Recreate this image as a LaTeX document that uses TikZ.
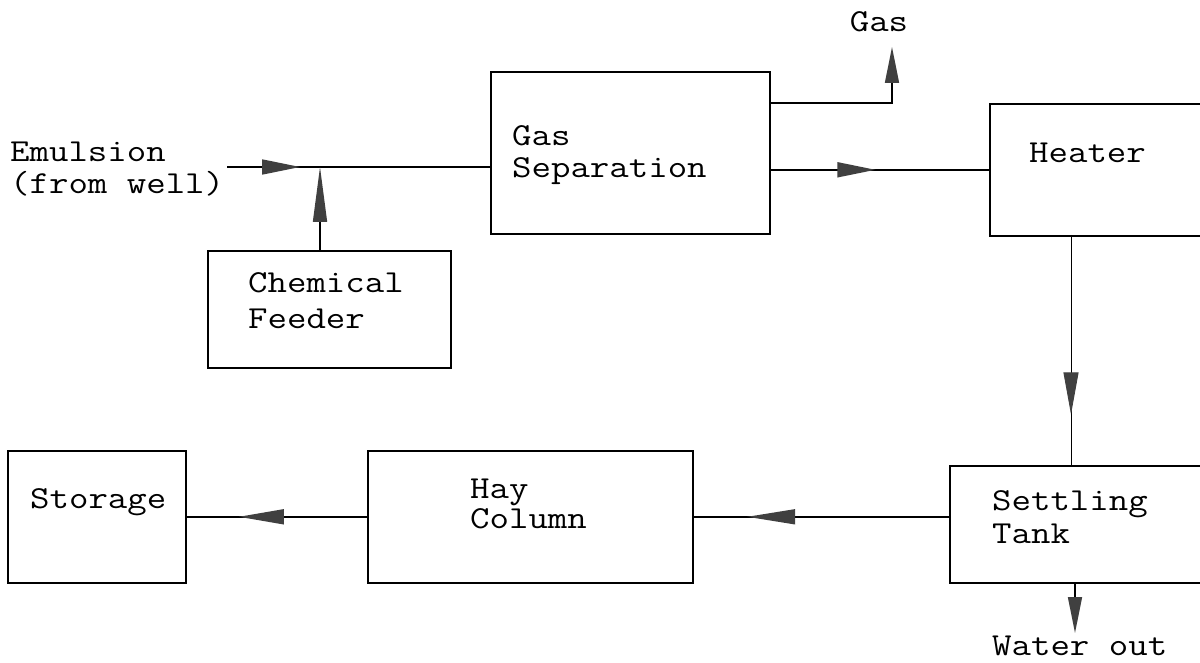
\documentclass[tikz,border=0pt]{standalone}
\usepackage{fontspec}
\newfontfamily\courfont{Latin Modern Mono}[FakeStretch=1.18]
\usetikzlibrary{arrows.meta,decorations.markings,calc}
\tikzset{
  box/.style={draw, line width=1.6pt, inner sep=0pt, anchor=north west},
  lbl/.style={inner sep=0pt, anchor=base west, font=\courfont\fontsize{32}{32}\selectfont},
  flow/.style={line width=1.6pt},
  thinflow/.style={line width=0.9pt},
  midtip/.style args={#1/#2}{postaction={decorate}, decoration={markings,
      mark=at position #1 with {\arrow[black!75]{Triangle[length=#2pt,width=15pt]}}}},
  endtip/.style={-{Triangle[length=#1pt,width=14pt,black!75]}}
}
\begin{document}
\begin{tikzpicture}[x=1pt,y=-1pt]
\clip (0,0) rectangle (1200,663);
\fill[white] (0,0) rectangle (1200,663);

% boxes
\node[box, minimum width=243pt, minimum height=117pt] (cf) at (207,250) {};
\node[box, minimum width=279pt, minimum height=162pt] (gs) at (490,71) {};
\node[box, minimum width=230pt, minimum height=132pt] (ht) at (989,103) {};
\node[box, minimum width=270pt, minimum height=117pt] (st) at (949,465) {};
\node[box, minimum width=325pt, minimum height=132pt] (hc) at (367,450) {};
\node[box, minimum width=178pt, minimum height=132pt] (sg) at (7,450) {};

% labels
\node[lbl] (t1) at (10,162) {Emulsion};
\node[lbl] (t2) at (10,194) {(from well)};
\node[lbl] (t3) at (248,293) {Chemical};
\node[lbl] (t4) at (248,328) {Feeder};
\node[lbl] (t5) at (512,146) {Gas};
\node[lbl] (t6) at (512,178) {Separation};
\node[lbl, anchor=base] (t7) at (879,32) {Gas};
\node[lbl] (t8) at (1029,163) {Heater};
\node[lbl] (t9) at (992,510) {Settling};
\node[lbl] (t10) at (992,543) {Tank};
\node[lbl] (t11) at (470,498) {Hay};
\node[lbl] (t12) at (470,528) {Column};
\node[lbl] (t13) at (30,508) {Storage};
\node[lbl] (t14) at (992,655) {Water out};

% coordinates
\coordinate (in) at (227,167);
\coordinate (j) at (320,167);
\coordinate (gasend) at (892,47);
\coordinate (gsout) at (769,103);
\coordinate (htout) at (1071,235);
\coordinate (wout) at (1075,633);

% connectors
\draw[flow, midtip=0.278/38] (in) -- (in -| gs.west);
\draw[flow, endtip=55] (cf.north -| j) -- (j);
\draw[flow, endtip=36] (gsout) -| (gasend);
\draw[flow, midtip=0.48/38] (gs.east |- ht.west) -- (ht.west);
\draw[thinflow, midtip=0.78/42] (htout) -- (htout |- st.north);
\draw[flow, midtip=0.79/48] (st.west |- hc.east) -- (hc.east);
\draw[flow, midtip=0.71/45] (hc.west) -- (sg.east);
\draw[flow, endtip=36] (st.south -| wout) -- (wout);
\end{tikzpicture}
\end{document}
